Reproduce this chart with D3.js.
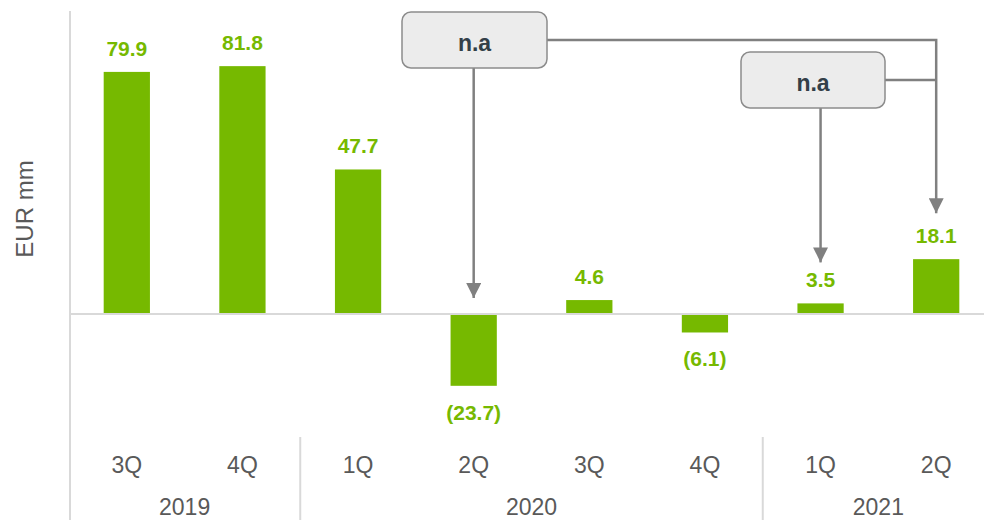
<!DOCTYPE html>
<html>
<head>
<meta charset="utf-8">
<script src="https://cdn.jsdelivr.net/npm/d3@7"></script>
<style>
  body { margin: 0; background: #fff; }
  svg { display: block; font-family: "Liberation Sans", Arial, sans-serif; }
</style>
</head>
<body>
<script>
const quarters = ["3Q", "4Q", "1Q", "2Q", "3Q", "4Q", "1Q", "2Q"];
const years = ["2019", "2019", "2020", "2020", "2020", "2020", "2021", "2021"];
const values = [79.9, 81.8, 47.7, -23.7, 4.6, -6.1, 3.5, 18.1];
const yearLabels = ["2019", "2020", "2021"];
const noteText = ["n.a", "n.a"];

const w = 984;
const h = 520;
const green = "#76b900";
const grey = "#595959";
const lineGrey = "#d9d9d9";
const arrowGrey = "#808080";

const svg = d3.select("body").append("svg").attr("width", w).attr("height", h);

// * SCALES
const keys = quarters.map((q, i) => i);
const xScale = d3.scaleBand().domain(keys).range([69, 994]).paddingInner(0.6).paddingOuter(0.3);
const yScale = d3.scaleLinear().domain([-30, 100]).range([404.9, 11]);
const bw = xScale.bandwidth();
const cx = (i) => xScale(i) + bw / 2;

// * AXES LINES
svg.append("line")
  .attr("x1", 70).attr("x2", 70).attr("y1", 11).attr("y2", h)
  .attr("stroke", lineGrey).attr("stroke-width", 2);

// * BARS
svg.selectAll("rect.bar")
  .data(values)
  .enter()
  .append("rect")
  .attr("class", "bar")
  .attr("x", (d, i) => xScale(i))
  .attr("y", (d) => yScale(Math.max(0, d)))
  .attr("width", bw)
  .attr("height", (d) => Math.abs(yScale(d) - yScale(0)))
  .attr("fill", green);

svg.append("line")
  .attr("x1", 70).attr("x2", w).attr("y1", yScale(0)).attr("y2", yScale(0))
  .attr("stroke", lineGrey).attr("stroke-width", 2);

// * VALUE LABELS
svg.selectAll("text.val")
  .data(values)
  .enter()
  .append("text")
  .attr("class", "val")
  .attr("x", (d, i) => cx(i))
  .attr("y", (d) => d >= 0 ? yScale(d) - 16 : yScale(d) + 34)
  .attr("text-anchor", "middle")
  .attr("font-size", 21)
  .attr("font-weight", "bold")
  .attr("fill", green)
  .text((d) => d >= 0 ? d.toFixed(1) : "(" + Math.abs(d).toFixed(1) + ")");

// * CATEGORY AXIS
const xAxis = d3.axisBottom(xScale).tickSize(0).tickPadding(0).tickFormat((i) => quarters[i]);
const gx = svg.append("g").attr("transform", "translate(0,473)").call(xAxis);
gx.select(".domain").remove();
gx.selectAll("text")
  .attr("font-size", 23)
  .attr("fill", grey)
  .attr("dy", 0)
  .style("font-family", "'Liberation Sans', Arial, sans-serif");

// year groups
const groups = yearLabels.map((y) => {
  const idx = keys.filter((i) => years[i] === y);
  return { year: y, first: idx[0], last: idx[idx.length - 1] };
});
groups.slice(1).forEach((g) => {
  const xs = xScale(g.first) - xScale.step() * xScale.paddingInner() / 2;
  svg.append("line")
    .attr("x1", xs).attr("x2", xs).attr("y1", 437).attr("y2", h)
    .attr("stroke", lineGrey).attr("stroke-width", 2);
});
svg.selectAll("text.year")
  .data(groups)
  .enter()
  .append("text")
  .attr("class", "year")
  .attr("x", (g) => (cx(g.first) + cx(g.last)) / 2)
  .attr("y", 515)
  .attr("text-anchor", "middle")
  .attr("font-size", 23)
  .attr("fill", grey)
  .text((g) => g.year);

// * Y TITLE
svg.append("text")
  .attr("transform", "translate(33,209) rotate(-90)")
  .attr("text-anchor", "middle")
  .attr("font-size", 24)
  .attr("fill", grey)
  .text("EUR mm");

// * ANNOTATIONS
const defs = svg.append("defs");
defs.append("marker")
  .attr("id", "arrow")
  .attr("viewBox", "0 0 10 10")
  .attr("refX", 10).attr("refY", 5)
  .attr("markerWidth", 16).attr("markerHeight", 15)
  .attr("markerUnits", "userSpaceOnUse")
  .attr("orient", "auto")
  .append("path").attr("d", "M0,0 L10,5 L0,10 Z").attr("fill", arrowGrey);

const lineG = svg.append("g").attr("fill", "none").attr("stroke", arrowGrey).attr("stroke-width", 2.5);
// box 1 -> 2Q 2020 and 2Q 2021
lineG.append("path").attr("d", `M${cx(3)},68 V${yScale(0) - 16}`).attr("marker-end", "url(#arrow)");
lineG.append("path").attr("d", `M547,40 H${cx(7)} V${yScale(values[7]) - 46}`).attr("marker-end", "url(#arrow)");
// box 2 -> 1Q 2021 and 2Q 2021
lineG.append("path").attr("d", `M${cx(6)},108 V${yScale(values[6]) - 41}`).attr("marker-end", "url(#arrow)");
lineG.append("path").attr("d", `M885,80 H${cx(7)}`);

const boxes = [
  { x: 402, y: 12, w: 145, h: 56 },
  { x: 741, y: 52, w: 144, h: 56 }
];
boxes.forEach((b, i) => {
  svg.append("rect")
    .attr("x", b.x).attr("y", b.y).attr("width", b.w).attr("height", b.h)
    .attr("rx", 9)
    .attr("fill", "#ececec").attr("stroke", "#8c8c8c").attr("stroke-width", 1.5);
  svg.append("text")
    .attr("x", b.x + b.w / 2).attr("y", b.y + 39)
    .attr("text-anchor", "middle")
    .attr("font-size", 23).attr("font-weight", "bold")
    .attr("fill", "#333f48")
    .text(noteText[i]);
});
</script>
</body>
</html>
